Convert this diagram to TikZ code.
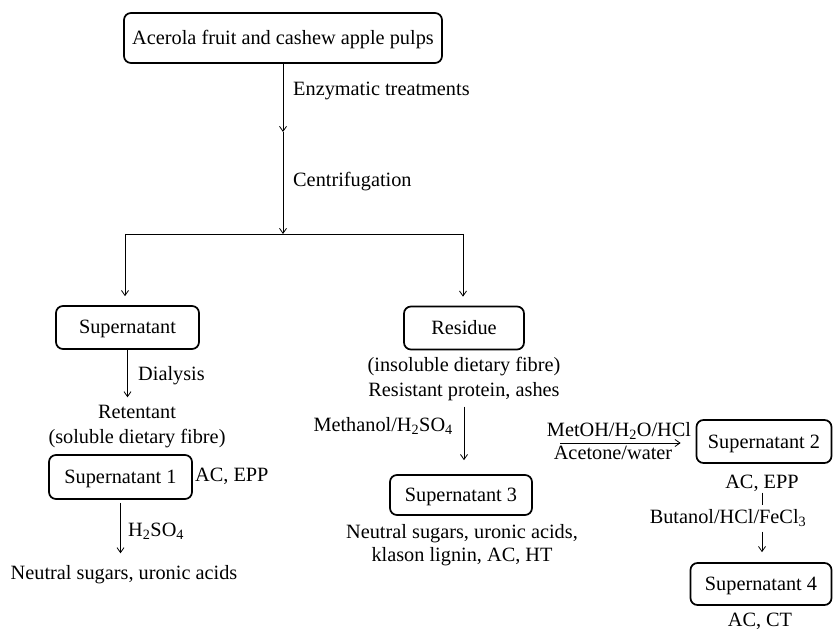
\documentclass[tikz,border=0pt]{standalone}
\usepackage{fontspec}
\setmainfont{Liberation Serif}
\usetikzlibrary{arrows.meta,calc}
\begin{document}
\begin{tikzpicture}[x=1pt,y=-1pt,
  font=\fontsize{20.3}{25}\selectfont,
  box/.style={draw, line width=1.7pt, rounded corners=7pt, inner sep=0pt, text height=13pt, text depth=0pt},
  lbl/.style={inner sep=0pt, text height=13pt, text depth=0pt},
  arr/.style={line width=0.8pt, -{Straight Barb[length=5pt,width=7pt]}},
  ln/.style={line width=0.8pt}]
\useasboundingbox (0,0) rectangle (833,631);

% top
\node[box, minimum width=318pt, minimum height=50pt] (top) at (283,38) {Acerola fruit and cashew apple pulps};
\coordinate (m1) at (283,132);
\coordinate (sp) at (283,234);
\coordinate (bl) at (125,234);
\coordinate (br) at (463,234);
\node[lbl, anchor=west] (enz) at (293,89) {Enzymatic treatments};
\node[lbl, anchor=west] (cen) at (293,180) {Centrifugation};
\draw[arr] (top.south) -- (m1);
\draw[arr] (m1) -- (sp);
\draw[ln] (bl) -- (br);

% second level
\node[box, minimum width=143pt, minimum height=43pt] (sup) at (127.5,327.5) {Supernatant};
\node[box, minimum width=120pt, minimum height=43pt] (res) at (464,328) {Residue};
\draw[arr, shorten >=9pt] (bl) -- (bl |- sup.north);
\draw[arr, shorten >=9pt] (br) -- (br |- res.north);

% left branch
\node[lbl, anchor=west] (dia) at (138,374) {Dialysis};
\node[lbl] (ret1) at (137,412) {Retentant};
\node[lbl] (ret2) at (137,437) {(soluble dietary fibre)};
\draw[arr, shorten >=8pt] (sup.south) -- (sup.south |- ret1.north);
\node[box, minimum width=143pt, minimum height=44pt] (s1) at (120.5,477) {Supernatant 1};
\node[lbl, anchor=west] (ac1) at (195,475) {AC, EPP};
\node[lbl, anchor=west] (h2) at (128,530) {H\textsubscript{2}SO\textsubscript{4}};
\node[lbl] (ns1) at (124,573) {Neutral sugars, uronic acids};
\draw[arr, shorten <=3pt, shorten >=13pt] (s1.south) -- (s1.south |- ns1.north);

% middle branch
\node[lbl] (rt1) at (464,365) {(insoluble dietary fibre)};
\node[lbl] (rt2) at (464,390) {Resistant protein, ashes};
\node[box, minimum width=142pt, minimum height=40pt] (s3) at (461,495) {Supernatant 3};
\draw[arr, shorten <=10pt, shorten >=14pt] (rt2.south) -- (rt2.south |- s3.north);
\node[lbl, anchor=east] (meth) at (453,425) {Methanol/H\textsubscript{2}SO\textsubscript{4}};
\node[lbl] (ns3a) at (462,532) {Neutral sugars, uronic acids,};
\node[lbl] (ns3b) at (462,555) {klason lignin, AC, HT};

% right branch
\node[box, minimum width=135pt, minimum height=43pt] (s2) at (764,441.5) {Supernatant 2};
\coordinate (a2) at (560,443);
\draw[arr, shorten >=15pt] (a2) -- (a2 -| s2.west);
\node[lbl] (met) at (619,430) {MetOH/H\textsubscript{2}O/HCl};
\node[lbl] (ace) at (613,453) {Acetone/water};
\node[lbl] (ac2) at (762,482) {AC, EPP};
\node[lbl] (but) at (728,517) {Butanol/HCl/FeCl\textsubscript{3}};
\node[box, minimum width=141pt, minimum height=42pt] (s4) at (761,584) {Supernatant 4};
\node[lbl] (acct) at (760,620) {AC, CT};
\draw[ln, shorten <=4pt, shorten >=5pt] (ac2.south) -- (ac2.south |- but.north);
\draw[arr, shorten <=8pt, shorten >=10pt] (ac2.south |- but.south) -- (ac2.south |- s4.north);
\end{tikzpicture}
\end{document}
